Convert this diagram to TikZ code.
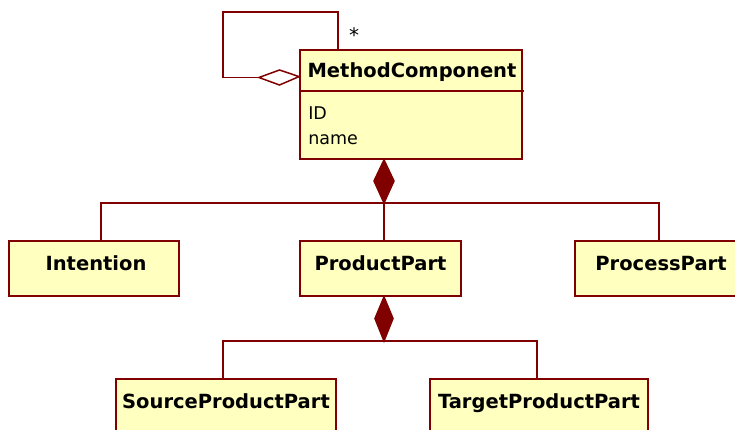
\documentclass[tikz,border=0pt]{standalone}
\usepackage{fontspec}
\setmainfont{DejaVu Sans}
\usetikzlibrary{calc}
\begin{document}
\begin{tikzpicture}[x=1pt,y=-1pt,
  umlbox/.style={draw=umlred, fill=umlfill, line width=1.8pt, rectangle, inner sep=0pt},
  lbl/.style={font=\fontsize{19.5}{22}\selectfont\bfseries, text=black, inner sep=0pt, anchor=base},
  attr/.style={font=\fontsize{17.5}{20}\selectfont, text=black, inner sep=0pt, anchor=base west},
  conn/.style={draw=umlred, line width=1.5pt},
]
\definecolor{umlred}{HTML}{800000}
\definecolor{umlfill}{HTML}{FFFFC0}
\useasboundingbox (0,0) rectangle (735,430);
\begin{scope}
\clip (0,0) rectangle (735,430);
% boxes
\node[umlbox, minimum width=222pt, minimum height=109pt] (mc) at (411,104.5) {};
\node[umlbox, minimum width=170pt, minimum height=55pt] (int) at (94,268.5) {};
\node[umlbox, minimum width=161pt, minimum height=55pt] (prod) at (380.5,268.5) {};
\node[umlbox, minimum width=170pt, minimum height=55pt] (proc) at (660,268.5) {};
\node[umlbox, minimum width=220pt, minimum height=55pt] (src) at (226,406.5) {};
\node[umlbox, minimum width=218pt, minimum height=55pt] (tgt) at (539,406.5) {};
% divider
\draw[conn, line width=1.8pt] ($(mc.north west)+(0,42)$) -- ($(mc.north east)+(1,42)$);
% labels
\node[lbl] (mct) at ($(mc.north)+(1,28.5)$) {MethodComponent};
\node[attr] (mcid) at ($(mc.north west)+(9,70.7)$) {ID};
\node[attr] (mcname) at ($(mc.north west)+(9,95.7)$) {name};
\node[lbl] (intt) at ($(int.north)+(2,30)$) {Intention};
\node[lbl] (prodt) at ($(prod.north)+(0,30)$) {ProductPart};
\node[lbl] (proct) at ($(proc.north)+(1,30)$) {ProcessPart};
\node[lbl] (srct) at ($(src.north)+(0,30)$) {SourceProductPart};
\node[lbl] (tgtt) at ($(tgt.north)+(0,30)$) {TargetProductPart};
\node[font=\fontsize{20}{22}\selectfont, inner sep=0pt] (star) at (354,35) {*};
% self aggregation
\coordinate (hd1) at ($(mc.north west)+(0,27.5)$);
\coordinate (hd2) at (279.5,70);
\coordinate (hd3) at (259,77.5);
\coordinate (hd4) at (279.5,85);
\draw[conn, fill=white] (hd1) -- (hd2) -- (hd3) -- (hd4) -- cycle;
\coordinate (loopa) at (223,77.5);
\coordinate (loopb) at (223,12);
\coordinate (loopc) at (338,12);
\coordinate (loopd) at (mc.north west -| loopc);
\draw[conn] (hd3) -- (loopa) -- (loopb) -- (loopc) -- (loopd);
% composition 1
\coordinate (xa) at (384,0);
\coordinate (xi) at (101,0);
\coordinate (xp) at (659,0);
\coordinate (xs) at (223,0);
\coordinate (xt) at (537,0);
\coordinate (d1t) at (mc.south -| xa);
\coordinate (d1b) at (384,203);
\draw[conn, fill=umlred] (d1t) -- (394,181) -- (d1b) -- (374,181) -- cycle;
\coordinate (i1) at (int.north -| xi);
\coordinate (i3) at (proc.north -| xp);
\draw[conn] (i1) |- (d1b) -| (i3);
\draw[conn] (d1b) -- (prod.north -| d1b);
% composition 2
\coordinate (d2t) at (prod.south -| xa);
\coordinate (d2b) at (384,341);
\draw[conn, fill=umlred] (d2t) -- (393,318.5) -- (d2b) -- (375,318.5) -- cycle;
\coordinate (s1) at (src.north -| xs);
\coordinate (t1) at (tgt.north -| xt);
\draw[conn] (s1) |- (d2b) -| (t1);
\end{scope}
\end{tikzpicture}
\end{document}
